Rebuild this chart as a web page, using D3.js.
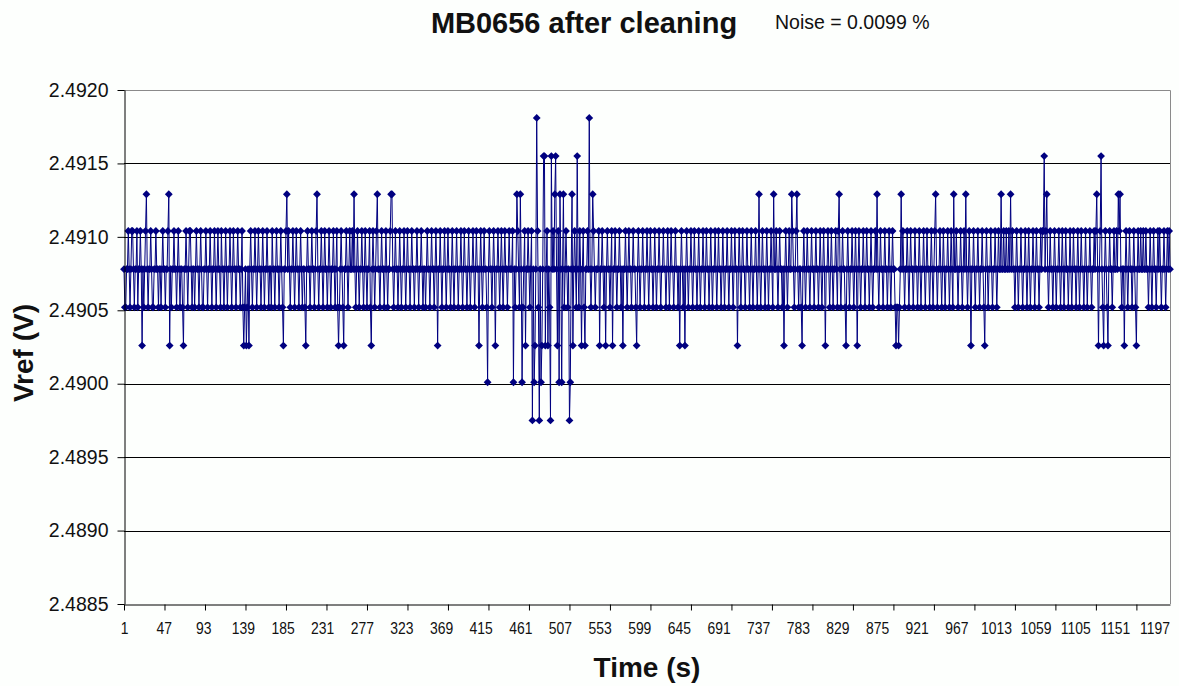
<!DOCTYPE html>
<html>
<head>
<meta charset="utf-8">
<script src="https://cdn.jsdelivr.net/npm/d3@7/dist/d3.min.js"></script>
<style>
  html, body { margin: 0; padding: 0; background: #fdfffd; }
  svg { display: block; }
  text { font-family: Arial, "Liberation Sans", sans-serif; fill: #111; }
</style>
</head>
<body>
<svg id="chart" width="1179" height="686"></svg>
<script>
// ADC output levels of the reference voltage (V)
const levels = [2.48975, 2.49001, 2.49026, 2.49052, 2.49078, 2.49104, 2.49129, 2.49155, 2.49181];

// One reading per second, stored as level codes (index into `levels`), 50 s per row
const readings = [
  "4334454345" + "5434453445" + "4243456434" + "4543344544" + "3443454434",
  "4562434454" + "4345434432" + "4454345543" + "4434544345" + "4334454344",
  "5434454345" + "4435443454" + "3445434544" + "3454434532" + "3423424543",
  "4454345443" + "4543445434" + "4354434544" + "3454324456" + "4543445434",
  "5443454344" + "3245443454" + "4345643445" + "4345443454" + "3445434532",
  "3454324454" + "3454454643" + "4543445434" + "5434453245" + "4345644345",
  "4434543445" + "6643454434" + "5434454345" + "4434544344" + "5434454344",
  "3454434544" + "3454244543" + "4454345443" + "4543445434" + "4543454434",
  "5434454345" + "4424543454" + "4314544345" + "4244543454" + "3454434544",
  "4514346543" + "6413452445" + "4345041248" + "5304124772" + "4524307454",
  "6742516414" + "6345434014" + "6245437435" + "4245324454" + "8434654344",
  "4524454342" + "4544345244" + "5434454342" + "4454345443" + "4544324543",
  "4454344543" + "4544345434" + "4543445443" + "4543454434" + "5443424543",
  "4245434454" + "3454434543" + "4454345443" + "4543445434" + "5443454344",
  "5434454345" + "4424543454" + "4345443454" + "3445434643" + "4544345434",
  "4543644543" + "4544342454" + "3454465434" + "5643443245" + "4345443454",
  "4345443454" + "3454244543" + "4543445435" + "6434544324" + "5434454345",
  "4245434454" + "3454434543" + "4454643454" + "4345443454" + "3454432332",
  "3464543445" + "4345443454" + "4345434454" + "3454434543" + "4564344543",
  "4543445434" + "5436445434" + "4543454643" + "4542445434" + "4543445432",
  "4543445434" + "4543454464" + "4544544546" + "4544345434" + "4543445434",
  "5434454345" + "4434545574" + "5643454434" + "5434454345" + "4345443454",
  "3454434543" + "4544345434" + "4543445456" + "4245743245" + "4324544345",
  "4454656434" + "4245434544" + "3454324544" + "5445445443" + "4543454434",
  "545434454345454"
];

// Axis ticks and labels
const yTicks = [2.4885, 2.4890, 2.4895, 2.4900, 2.4905, 2.4910, 2.4915, 2.4920];
const xLabels = [1, 47, 93, 139, 185, 231, 277, 323, 369, 415, 461, 507, 553, 599, 645, 691,
                 737, 783, 829, 875, 921, 967, 1013, 1059, 1105, 1151, 1197];
const xTickMarks = [1, 48, 95, 142, 189, 236, 283, 330, 377, 424, 471, 518, 565, 612, 659, 706,
                    753, 800, 847, 894, 941, 988, 1035, 1082, 1129, 1176];

const chartTitle = "MB0656 after cleaning";
const noiseNote = "Noise = 0.0099 %";
const xTitle = "Time (s)";
const yTitle = "Vref (V)";

// Build the series
const codes = readings.join("");
const series = Array.from(codes, (c, i) => ({ t: i + 1, v: levels[+c] }));
const N = series.length;

const svg = d3.select("#chart");
const plot = { left: 124, right: 1170, top: 90, bottom: 604 };

const x = d3.scaleLinear().domain([1, N]).range([plot.left, plot.right]);
const y = d3.scaleLinear().domain([2.4885, 2.4920]).range([plot.bottom, plot.top]);

// Horizontal gridlines
svg.append("g")
  .selectAll("line")
  .data(yTicks.filter(d => d > 2.4885 && d < 2.4920))
  .join("line")
  .attr("x1", plot.left).attr("x2", plot.right)
  .attr("y1", d => Math.round(y(d)) + 0.5).attr("y2", d => Math.round(y(d)) + 0.5)
  .attr("stroke", "#000").attr("stroke-width", 1);

// Plot-area border (top and right)
svg.append("path")
  .attr("d", `M${plot.left},${plot.top + 0.5}H${plot.right + 0.5}V${plot.bottom}`)
  .attr("fill", "none").attr("stroke", "#8a8a8a").attr("stroke-width", 1);

// Data line
const line = d3.line().x(d => x(d.t)).y(d => y(d.v));
svg.append("path")
  .datum(series)
  .attr("d", line)
  .attr("fill", "none")
  .attr("stroke", "#000080")
  .attr("stroke-width", 1);

// Diamond markers
const r = 3.9;
svg.append("g")
  .selectAll("path")
  .data(series)
  .join("path")
  .attr("transform", d => `translate(${x(d.t)},${y(d.v)})`)
  .attr("d", `M0,${-r}L${r},0L0,${r}L${-r},0Z`)
  .attr("fill", "#000080");

// Y axis
const yAxis = svg.append("g")
  .attr("transform", `translate(${plot.left + 0.5},0)`)
  .call(d3.axisLeft(y).tickValues(yTicks).tickFormat(d3.format(".4f"))
    .tickSizeInner(7).tickSizeOuter(0).tickPadding(9));
yAxis.select(".domain").attr("stroke", "#000");
yAxis.selectAll(".tick line").attr("stroke", "#000");
yAxis.selectAll("text").attr("font-size", 19.5).attr("fill", "#111")
  .style("font-family", "Arial, 'Liberation Sans', sans-serif");

// X axis: tick marks
const xAxis = svg.append("g")
  .attr("transform", `translate(0,${plot.bottom + 0.5})`)
  .call(d3.axisBottom(x).tickValues(xTickMarks).tickFormat("")
    .tickSizeInner(6).tickSizeOuter(0));
xAxis.select(".domain").attr("stroke", "#000");
xAxis.selectAll(".tick line").attr("stroke", "#000");

// X axis: category labels
const xLab = svg.append("g")
  .attr("transform", `translate(0,${plot.bottom})`)
  .call(d3.axisBottom(x).tickValues(xLabels).tickFormat(d3.format("d"))
    .tickSize(0).tickPadding(18));
xLab.select(".domain").remove();
xLab.selectAll("text").attr("font-size", 17).attr("fill", "#111")
  .attr("transform", "scale(0.82,1)")
  .style("font-family", "Arial, 'Liberation Sans', sans-serif");

// Titles
svg.append("text")
  .attr("x", 584).attr("y", 33)
  .attr("text-anchor", "middle")
  .attr("font-size", 29).attr("font-weight", "bold")
  .text(chartTitle);

svg.append("text")
  .attr("x", 775).attr("y", 29)
  .attr("font-size", 19.5)
  .text(noiseNote);

svg.append("text")
  .attr("x", 647).attr("y", 677)
  .attr("text-anchor", "middle")
  .attr("font-size", 28).attr("font-weight", "bold")
  .text(xTitle);

svg.append("text")
  .attr("transform", "translate(33,353) rotate(-90)")
  .attr("text-anchor", "middle")
  .attr("font-size", 28).attr("font-weight", "bold")
  .text(yTitle);
</script>
</body>
</html>
